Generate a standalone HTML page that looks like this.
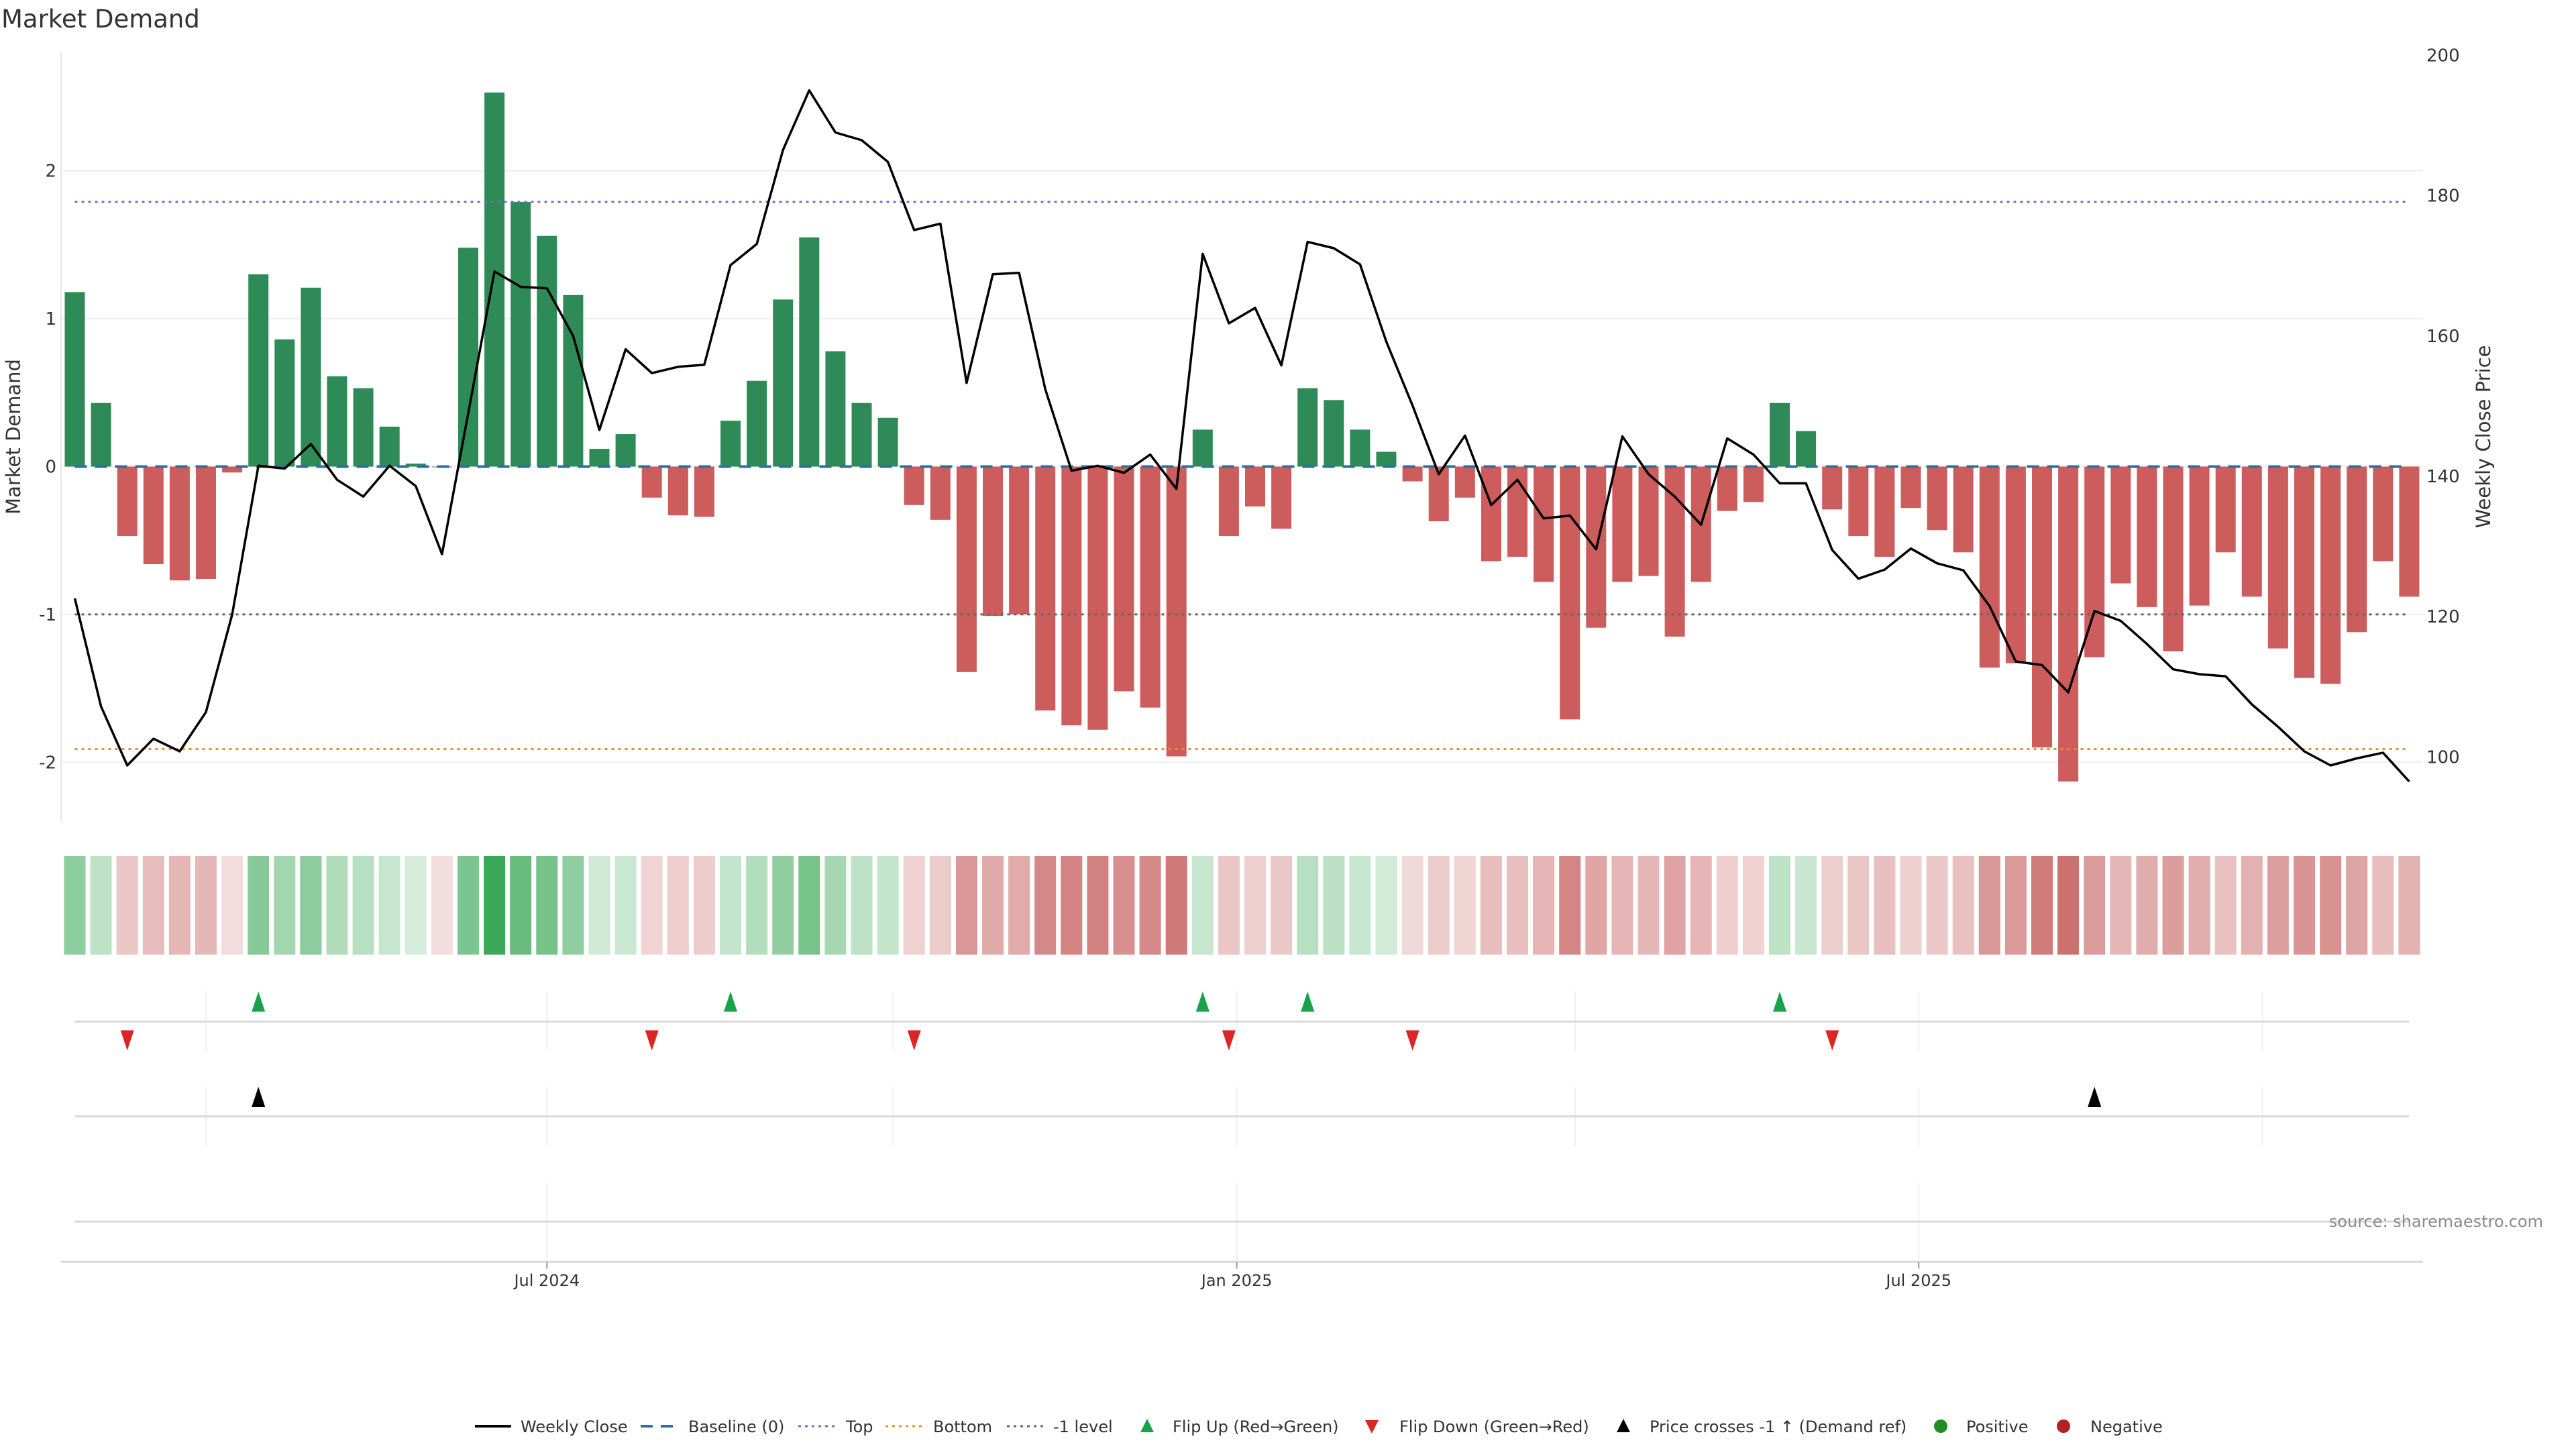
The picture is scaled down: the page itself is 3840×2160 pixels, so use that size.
<!DOCTYPE html>
<html><head><meta charset="utf-8"><title>Market Demand</title>
<style>
html,body{margin:0;padding:0;background:#fff;}
svg{display:block;font-family:"DejaVu Sans","Liberation Sans",sans-serif;}
</style></head>
<body>
<svg id="chart" width="3840" height="2160" viewBox="0 0 3840 2160" xmlns="http://www.w3.org/2000/svg">
<text x="2" y="41" font-size="37" fill="#333">Market Demand</text>
<g id="grid"></g><g id="bars"></g><g id="refs"></g><g id="price"></g><g id="heat"></g><g id="flips"></g><g id="axes"></g>
<text transform="translate(30,651) rotate(-90)" text-anchor="middle" font-size="29" fill="#333">Market Demand</text>
<text transform="translate(3712,651) rotate(-90)" text-anchor="middle" font-size="29" fill="#333">Weekly Close Price</text>
<text x="3791" y="1829" text-anchor="end" font-size="24" fill="#8a8a8a">source: sharemaestro.com</text>
<g id="legend"></g>
</svg>
<script>
const demand=[1.18,0.43,-0.47,-0.66,-0.77,-0.76,-0.04,1.30,0.86,1.21,0.61,0.53,0.27,0.02,-0.005,1.48,2.53,1.79,1.56,1.16,0.12,0.22,-0.21,-0.33,-0.34,0.31,0.58,1.13,1.55,0.78,0.43,0.33,-0.26,-0.36,-1.39,-1.01,-1.00,-1.65,-1.75,-1.78,-1.52,-1.63,-1.96,0.25,-0.47,-0.27,-0.42,0.53,0.45,0.25,0.10,-0.10,-0.37,-0.21,-0.64,-0.61,-0.78,-1.71,-1.09,-0.78,-0.74,-1.15,-0.78,-0.30,-0.24,0.43,0.24,-0.29,-0.47,-0.61,-0.28,-0.43,-0.58,-1.36,-1.33,-1.90,-2.13,-1.29,-0.79,-0.95,-1.25,-0.94,-0.58,-0.88,-1.23,-1.43,-1.47,-1.12,-0.64,-0.88];
const closePrice=[122.6,107.2,98.8,102.6,100.8,106.4,120.3,141.5,141.1,144.6,139.5,137.1,141.5,138.6,128.9,149,169.2,167.0,166.8,160.0,146.6,158.1,154.7,155.6,155.9,170.1,173.1,186.5,195.0,189.0,187.9,184.8,175.1,176.0,153.3,168.8,169.0,152.4,140.8,141.5,140.5,143.1,138.2,171.7,161.8,164.0,155.8,173.4,172.5,170.2,159.2,150.1,140.3,145.8,135.9,139.5,134.0,134.4,129.6,145.7,140.3,137.1,133.1,145.4,143.1,139.0,139.0,129.5,125.4,126.7,129.7,127.6,126.6,121.5,113.6,113.1,109.2,120.8,119.4,116.1,112.5,111.8,111.5,107.5,104.3,100.8,98.8,99.8,100.6,96.5];
const flipUpIdx=[7,25,43,47,65];
const flipDownIdx=[2,22,32,44,51,67];
const crossIdx=[7,77];
const leftTicks=[2,1,0,-1,-2];
const rightTicks=[200,180,160,140,120,100];
const refLevels=[1.79,-1,-1.91];
const dateTickIdx=[18.0,44.3,70.3];
const dateTickLabels=["Jul 2024","Jan 2025","Jul 2025"];
const minorGridIdx=[5.0,18.0,31.2,44.3,57.2,70.3,83.4];

const NS="http://www.w3.org/2000/svg";
const X0=111.5, DX=39.1, BW=30;
const xs=i=>X0+i*DX;
const yD=v=>695.5-v*220.4;
const yP=p=>710-(p-140)*10.46;
function mk(tag,attrs,parent){const e=document.createElementNS(NS,tag);for(const k in attrs)e.setAttribute(k,attrs[k]);parent.appendChild(e);return e;}
const G=id=>document.getElementById(id);
const PL=91, PR=3612;

leftTicks.forEach(t=>{
  const l=mk('line',{x1:PL,x2:PR,y1:yD(t),y2:yD(t),stroke:'#eeeeee','stroke-width':2},G('grid'));
  
  
  const tx=mk('text',{x:84,y:yD(t)+9,'text-anchor':'end','font-size':26,fill:'#333'},G('axes'));
  tx.textContent=String(t);
  
  
});
rightTicks.forEach(t=>{
  const tx=mk('text',{x:3617,y:yP(t)+9,'font-size':26,fill:'#333'},G('axes'));
  tx.textContent=t;
  
  
});
const ax=mk('line',{x1:PL,x2:PL,y1:78,y2:1225,stroke:'#e6e6e6','stroke-width':2},G('axes'));



demand.forEach((v,i)=>{
  const y=Math.min(yD(v),yD(0)), h=Math.abs(yD(v)-yD(0));
  const r=mk('rect',{x:xs(i)-BW/2,y:y,width:BW,height:Math.max(h,1),fill:v>=0?'#2e8b57':'#cd5c5c'},G('bars'));
  
  
});
const refCols=['#7b68c8','#666666','#e8902a'];
refLevels.forEach((v,k)=>{
  const l=mk('line',{x1:xs(0),x2:xs(demand.length-1),y1:yD(v),y2:yD(v),stroke:refCols[k],'stroke-width':3,'stroke-dasharray':'4 6'},G('refs'));
  
  
});
const bl=mk('line',{x1:xs(0),x2:xs(demand.length-1),y1:yD(0),y2:yD(0),stroke:'#2f6fa0','stroke-width':4,'stroke-dasharray':'18 12'},G('refs'));


const pts=closePrice.map((p,i)=>xs(i).toFixed(1)+','+yP(p).toFixed(1)).join(' ');
const pl=mk('polyline',{points:pts,fill:'none',stroke:'#000','stroke-width':3.5,'stroke-linejoin':'round'},G('price'));



demand.forEach((v,i)=>{
  const a=Math.min(1,0.2+0.8*Math.abs(v)/2.53);
  const base=v>=0?[58,168,86]:[196,92,90];
  const c=base.map(b=>Math.round(255-(255-b)*a));
  const r=mk('rect',{x:xs(i)-BW/2-1,y:1276,width:BW+2,height:147,fill:`rgb(${c.join(',')})`},G('heat'));
  
  
});

minorGridIdx.forEach(g=>{
  [[1478,1567],[1621,1708]].forEach(([a,b])=>{
    const l=mk('line',{x1:xs(g),x2:xs(g),y1:a,y2:b,stroke:'#f0f0f0','stroke-width':2},G('flips'));
    
    
  });
});
dateTickIdx.forEach(g=>{
  const l=mk('line',{x1:xs(g),x2:xs(g),y1:1763,y2:1880,stroke:'#f0f0f0','stroke-width':2},G('flips'));
  
  
});
[1523,1664,1821].forEach(y=>{
  const l=mk('line',{x1:xs(0),x2:xs(demand.length-1),y1:y,y2:y,stroke:'#d9d9d9','stroke-width':3},G('flips'));
  
  
});
function tri(x,y,up,col,name){
  const d=up?`M${x},${y-15} L${x+10},${y+15} L${x-10},${y+15} Z`:`M${x},${y+15} L${x+10},${y-15} L${x-10},${y-15} Z`;
  const p=mk('path',{d:d,fill:col},G('flips'));
  
  
}
flipUpIdx.forEach(i=>tri(xs(i),1493,true,'#16a34a','flip-up-marker'));
flipDownIdx.forEach(i=>tri(xs(i),1551,false,'#dc2626','flip-down-marker'));
crossIdx.forEach(i=>tri(xs(i),1635,true,'#000','price-cross-marker'));

const xa=mk('line',{x1:PL,x2:PR,y1:1881,y2:1881,stroke:'#d9d9d9','stroke-width':3},G('axes'));


dateTickIdx.forEach((g,k)=>{
  const t=mk('line',{x1:xs(g),x2:xs(g),y1:1881,y2:1891,stroke:'#999','stroke-width':2},G('axes'));
  
  
  const tx=mk('text',{x:xs(g),y:1917,'text-anchor':'middle','font-size':24,fill:'#333'},G('axes'));
  tx.textContent=dateTickLabels[k];
  
  
});

const LG=G('legend'), LY=2126;
function ltext(x,s){const t=mk('text',{x:x,y:LY+9,'font-size':24,fill:'#333'},LG);t.textContent=s;}
function lline(x1,col,w,dash,name){const l=mk('line',{x1:x1,x2:x1+54,y1:LY,y2:LY,stroke:col,'stroke-width':w,'stroke-dasharray':dash},LG);}
lline(708,'#000',4,'none','legend-weekly-close');ltext(776,'Weekly Close');
lline(955,'#2f6fa0',4,'18 12','legend-baseline');ltext(1026,'Baseline (0)');
lline(1190,'#7b68c8',3,'4 6','legend-top');ltext(1261,'Top');
lline(1320,'#e8902a',3,'4 6','legend-bottom');ltext(1391,'Bottom');
lline(1501,'#666',3,'4 6','legend-minus-one');ltext(1570,'-1 level');
function ltri(x,up,col,name){const y=LY;const d=up?`M${x},${y-11} L${x+10},${y+9} L${x-10},${y+9} Z`:`M${x},${y+11} L${x+10},${y-9} L${x-10},${y-9} Z`;const p=mk('path',{d:d,fill:col},LG);}
ltri(1710,true,'#16a34a','legend-flip-up');ltext(1748,'Flip Up (Red\u2192Green)');
ltri(2045,false,'#dc2626','legend-flip-down');ltext(2086,'Flip Down (Green\u2192Red)');
ltri(2420,true,'#000','legend-price-cross');ltext(2459,'Price crosses -1 \u2191 (Demand ref)');
const c1=mk('circle',{cx:2893,cy:LY,r:10,fill:'#228b22'},LG);ltext(2931,'Positive');
const c2=mk('circle',{cx:3076,cy:LY,r:10,fill:'#b22222'},LG);ltext(3116,'Negative');
</script>
</body></html>
